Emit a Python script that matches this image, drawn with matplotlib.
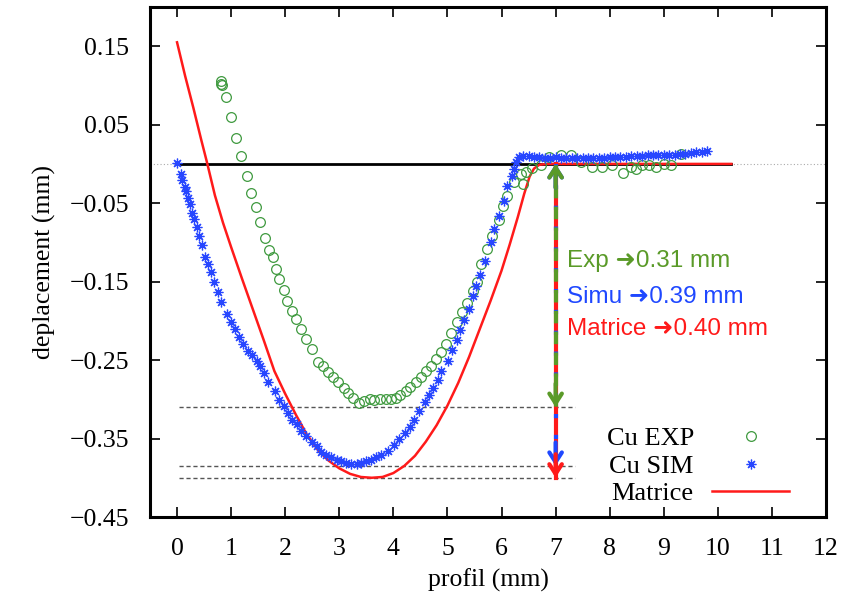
import matplotlib
matplotlib.use("Agg")
import matplotlib.pyplot as plt
from matplotlib.lines import Line2D

# Cu EXP (cercles verts)
exp_x = [0.81, 0.82, 0.83, 0.90, 0.99, 1.09, 1.19, 1.29, 1.37, 1.46,
         1.54, 1.62, 1.70, 1.77, 1.83, 1.89, 1.97, 2.04, 2.12, 2.20,
         2.29, 2.39, 2.50, 2.60, 2.69, 2.79, 2.88, 2.98, 3.08, 3.17,
         3.25, 3.36, 3.46, 3.56, 3.65, 3.75, 3.86, 3.95, 4.04, 4.13,
         4.23, 4.31, 4.41, 4.51, 4.61, 4.70, 4.79, 4.88, 4.98, 5.07,
         5.17, 5.26, 5.37, 5.47, 5.54, 5.62, 5.74, 5.82, 5.95, 6.02,
         6.11, 6.24, 6.36, 6.45, 6.57, 6.73, 6.88, 7.10, 7.28, 7.47,
         7.68, 7.86, 8.05, 8.24, 8.39, 8.48, 8.60, 8.73, 8.85, 9.00,
         9.13, 9.31, 6.39]
exp_y = [0.106, 0.102, 0.100, 0.085, 0.060, 0.033, 0.010, -0.016, -0.037, -0.055,
         -0.074, -0.095, -0.110, -0.118, -0.134, -0.147, -0.161, -0.175, -0.187, -0.198,
         -0.211, -0.223, -0.236, -0.252, -0.257, -0.265, -0.272, -0.278, -0.286, -0.292,
         -0.298, -0.305, -0.302, -0.300, -0.301, -0.299, -0.300, -0.299, -0.298, -0.295,
         -0.290, -0.284, -0.278, -0.271, -0.264, -0.257, -0.249, -0.240, -0.229, -0.216,
         -0.202, -0.189, -0.177, -0.162, -0.151, -0.128, -0.108, -0.092, -0.071, -0.054,
         -0.041, -0.023, -0.013, -0.010, -0.005, -0.002, 0.009, 0.011, 0.011, 0.002,
         -0.004, -0.004, -0.002, -0.011, -0.004, -0.006, -0.002, -0.002, -0.004, 0.000,
         -0.002, 0.013, -0.025]

# Cu SIM (etoiles bleues)
sim_x = [0.00, 0.07, 0.10, 0.14, 0.17, 0.20, 0.24, 0.28, 0.32, 0.36,
         0.41, 0.46, 0.52, 0.58, 0.62, 0.68, 0.76, 0.82, 0.92, 0.99,
         1.07, 1.15, 1.22, 1.32, 1.38, 1.47, 1.53, 1.61, 1.69, 1.81,
         1.89, 1.97, 2.05, 2.13, 2.22, 2.30, 2.39, 2.49, 2.58, 2.67,
         2.76, 2.85, 2.95, 3.04, 3.13, 3.22, 3.32, 3.41, 3.50, 3.59,
         3.68, 3.78, 3.90, 4.02, 4.11, 4.21, 4.30, 4.39, 4.48, 4.58,
         4.66, 4.73, 4.82, 4.89, 5.01, 5.09, 5.17, 5.24, 5.31, 5.39,
         5.47, 5.53, 5.61, 5.70, 5.81, 5.87, 5.96, 6.04, 6.11, 6.19,
         6.24, 6.27, 6.33,
         6.4, 6.5, 6.6, 6.7, 6.8, 6.9, 7.0, 7.1, 7.2, 7.3,
         7.4, 7.5, 7.6, 7.7, 7.8, 7.9, 8.0, 8.1, 8.2, 8.3,
         8.4, 8.5, 8.6, 8.7, 8.8, 8.9, 9.0, 9.1, 9.2, 9.3,
         9.4, 9.5, 9.6, 9.7, 9.8]
sim_y = [0.001, -0.013, -0.021, -0.029, -0.035, -0.043, -0.051, -0.063, -0.070, -0.081,
         -0.092, -0.103, -0.118, -0.128, -0.138, -0.150, -0.163, -0.176, -0.191, -0.202,
         -0.210, -0.220, -0.230, -0.239, -0.244, -0.251, -0.258, -0.266, -0.278, -0.290,
         -0.301, -0.309, -0.318, -0.326, -0.332, -0.340, -0.347, -0.354, -0.360, -0.367,
         -0.371, -0.374, -0.377, -0.379, -0.381, -0.382, -0.382, -0.381, -0.379, -0.377,
         -0.374, -0.371, -0.366, -0.358, -0.351, -0.343, -0.335, -0.326, -0.315, -0.303,
         -0.294, -0.286, -0.276, -0.264, -0.251, -0.237, -0.225, -0.212, -0.199, -0.185,
         -0.168, -0.156, -0.141, -0.124, -0.100, -0.083, -0.066, -0.047, -0.028, -0.015,
         -0.006, 0.002, 0.009,
         0.010, 0.010, 0.009, 0.009, 0.008, 0.008, 0.009, 0.008, 0.008, 0.008,
         0.008, 0.008, 0.007, 0.007, 0.008, 0.008, 0.009, 0.009, 0.009, 0.009,
         0.010, 0.010, 0.010, 0.011, 0.011, 0.011, 0.012, 0.012, 0.012, 0.013,
         0.013, 0.014, 0.015, 0.015, 0.016]

# Matrice (ligne rouge)
mat_x = [0, 0.15, 0.3, 0.45, 0.55, 0.7, 0.85, 1.0, 1.2, 1.4, 1.6, 1.8, 2.0,
         2.2, 2.4, 2.6, 2.8, 3.0, 3.2, 3.4, 3.6, 3.8, 4.0, 4.2, 4.4, 4.6, 4.8,
         5.0, 5.2, 5.4, 5.6, 5.8, 6.0, 6.15, 6.3, 6.42, 6.52, 6.6, 6.7, 6.85,
         10.25]
mat_y = [0.155, 0.112, 0.072, 0.030, 0.003, -0.040, -0.075, -0.106, -0.146,
         -0.185, -0.224, -0.264, -0.293, -0.320, -0.345, -0.364, -0.378, -0.388,
         -0.395, -0.399, -0.400, -0.399, -0.394, -0.385, -0.372, -0.354, -0.333,
         -0.308, -0.279, -0.246, -0.210, -0.174, -0.136, -0.103, -0.068, -0.038,
         -0.016, -0.006, -0.001, 0.0, 0.0]

# profondeurs max
depths = [0.31, 0.385, 0.40]
depth_colors = ["#5a9a28", "#1f48ff", "#ff1a1a"]
depth_texts = ["Exp \u279c0.31 mm", "Simu \u279c0.39 mm", "Matrice \u279c0.40 mm"]
text_y = [-0.124, -0.169, -0.210]

serif = ["Liberation Serif", "DejaVu Serif"]
sans = ["Liberation Sans", "DejaVu Sans"]
plt.rcParams["font.family"] = serif

fig = plt.figure(figsize=(8.41, 6.07), dpi=100)
ax = fig.add_axes([150 / 841, 1 - 517 / 607, 676 / 841, 510 / 607])

ax.axhline(0, color="#aaaaaa", ls=(0, (1, 2)), lw=0.8, zorder=1)
ax.plot([0, 10.25], [0, 0], color="black", lw=2, zorder=2)

for d in depths:
    ax.plot([0.03, 7.35], [-d, -d], color="#555555", ls=(0, (3, 2)), lw=1, zorder=2)

ax.plot(exp_x, exp_y, ls="none", marker="o", ms=7, mfc="none",
        mec="#3f9a3f", mew=0.9, label="Cu EXP", zorder=4)
ax.plot(sim_x, sim_y, ls="none", marker=(8, 2, 0), ms=7,
        color="#2746ff", mew=0.9, label="Cu SIM", zorder=5)
ax.plot(mat_x, mat_y, color="#ff1a1a", lw=1.8, label="Matrice", zorder=3)

# fleches de profondeur
ax.plot([7, 7], [0, -depths[2]], color=depth_colors[2], lw=3, zorder=6)
ax.plot([7, 7], [0, -depths[1]], color=depth_colors[1], lw=3,
        ls=(0, (1, 4)), zorder=7)
ax.plot([7, 7], [-0.002, -depths[0]], color=depth_colors[0], lw=3,
        ls=(0, (3, 2)), zorder=8)
for d, c in zip(depths, depth_colors):
    ax.annotate("", xy=(7, -d), xytext=(7, -d + 0.03),
                arrowprops=dict(arrowstyle="->,head_length=0.7,head_width=0.45",
                                color=c, lw=3, shrinkA=0, shrinkB=0), zorder=9)
for c in [depth_colors[1], depth_colors[0]]:
    ax.annotate("", xy=(7, 0), xytext=(7, -0.03),
                arrowprops=dict(arrowstyle="->,head_length=0.7,head_width=0.45",
                                color=c, lw=3, shrinkA=0, shrinkB=0), zorder=9)

for t, c, yy in zip(depth_texts, depth_colors, text_y):
    ax.text(7.21, yy, t, color=c, fontsize=17.5, family=sans,
            va="center", ha="left")

ax.set_xlim(-0.5, 12)
ax.set_ylim(-0.45, 0.2)
ax.set_xticks(range(0, 13))
ax.set_yticks([0.15, 0.05, -0.05, -0.15, -0.25, -0.35, -0.45])
ax.set_yticklabels(["0.15", "0.05", "\u22120.05", "\u22120.15", "\u22120.25",
                    "\u22120.35", "\u22120.45"])
ax.tick_params(direction="in", top=True, right=True, length=7, width=1.2,
               labelsize=18.5, pad=15)
for s in ax.spines.values():
    s.set_linewidth(2.2)

ax.set_xlabel("profil (mm)", fontsize=18.5, labelpad=6)
ax.set_ylabel("deplacement (mm)", fontsize=18.5, labelpad=10)

handles = [
    Line2D([], [], ls="none", marker="o", ms=7, mfc="none", mec="#3f9a3f", mew=0.9),
    Line2D([], [], ls="none", marker=(8, 2, 0), ms=7, color="#2746ff", mew=0.9),
    Line2D([], [], color="#ff1a1a", lw=1.8),
]
ax.legend(handles, ["Cu EXP", "Cu SIM", "Matrice"], loc="center right",
          bbox_to_anchor=(802 / 841, 1 - 466 / 607), bbox_transform=fig.transFigure,
          frameon=False, markerfirst=False, fontsize=19, labelspacing=0.15,
          handlelength=2.9, handletextpad=0.7, borderpad=0, numpoints=1)

fig.savefig("out.png", dpi=100)
